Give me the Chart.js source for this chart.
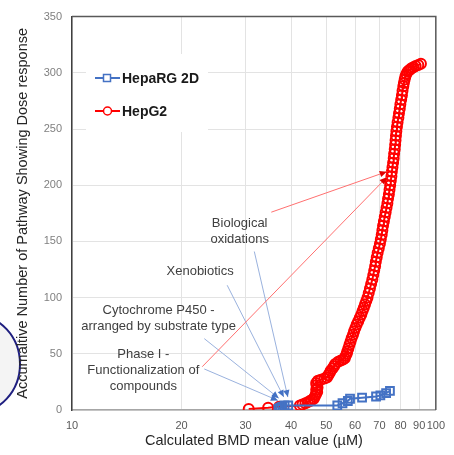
<!DOCTYPE html>
<html>
<head>
<meta charset="utf-8">
<script src="https://cdn.jsdelivr.net/npm/chart.js@4.4.0/dist/chart.umd.min.js"></script>
<style>
html,body{margin:0;padding:0;background:#fff;}
</style>
</head>
<body>
<canvas id="chart" width="454" height="455"></canvas>
<script>
// valores
const xTicks = [10, 20, 30, 40, 50, 60, 70, 80, 90, 100];
const yTicks = [0, 50, 100, 150, 200, 250, 300, 350];

const hepaRGDose  = [36.9, 37.3, 37.8, 38.4, 39.3, 53.6, 55.4, 57.3, 58.1, 62.7, 68.5, 70.4, 73.0, 74.8];
const hepaRGCount = [1, 2, 3, 4, 4, 4, 6, 8, 10, 11, 12, 13, 15, 17];

const hepG2Dose = [30.6, 34.6, 37.1, 42.3, 43.0, 43.8, 44.5, 45.1, 45.6, 46.2, 46.5, 46.8, 47.2, 46.9, 47.3, 47.0, 46.9, 47.4,
  48.3, 49.4, 50.2, 50.6, 51.1, 51.4, 52.0, 52.5, 52.9, 53.9, 54.8, 55.6, 56.2, 56.5, 56.9, 57.1, 57.5, 57.9, 58.3, 58.7,
  59.2, 59.6, 60.1, 60.6, 61.2, 61.8, 62.4, 62.9, 63.4, 63.9, 64.4, 64.9, 65.4, 65.9, 66.4, 66.9, 67.3, 67.7, 68.1, 68.4,
  68.8, 69.2, 69.7, 70.2, 70.6, 71.0, 71.3, 71.6, 72.0, 72.4, 72.8, 73.2, 73.6, 73.9, 74.3, 74.6, 74.9, 75.2, 75.5, 75.7,
  76.0, 76.3, 76.6, 76.8, 77.1, 77.3, 77.5, 77.7, 77.9, 78.2, 78.5, 78.9, 79.2, 79.6, 79.9, 80.3, 80.7, 81.0, 81.4, 81.7,
  82.1, 82.5, 83.0, 83.6, 84.3, 85.0, 85.7, 86.8, 88.0, 89.5, 91.0];
const hepG2Count = [1, 2, 3, 4, 5, 6, 7, 8, 9, 10, 12, 14, 16, 18, 20, 22, 24, 26,
  27, 28, 29, 31, 33, 35, 37, 39, 41, 43, 44, 45, 46, 48, 50, 52, 55, 58, 61, 64,
  67, 70, 73, 76, 79, 82, 85, 88, 91, 94, 97, 100, 104, 108, 112, 116, 120, 124, 128, 132,
  136, 140, 144, 148, 152, 156, 160, 164, 168, 172, 176, 180, 184, 188, 192, 196, 200, 204, 208, 212,
  216, 220, 224, 228, 232, 236, 240, 244, 248, 252, 256, 260, 264, 268, 272, 276, 280, 284, 288, 291,
  294, 297, 299, 301, 302, 303, 304, 305, 306, 307, 308];

const xTitle = 'Calculated BMD mean value (\u00b5M)';
const yTitle = 'Accumaltive Number of Pathway Showing Dose response';

// textos e setas (em unidades do grafico)
const notes = [
  {lines: ['Biological', 'oxidations'], x: 28.9, y: 158.5},
  {lines: ['Xenobiotics'], x: 22.5, y: 123},
  {lines: ['Cytochrome P450 -', 'arranged by substrate type'], x: 17.3, y: 81.5},
  {lines: ['Phase I -', 'Functionalization of', 'compounds'], x: 15.7, y: 35.5}
];
const pointers = [
  {from: [31.7, 141], to: [39.2, 11.5], line: '#9ab2de', head: '#4472c4'},
  {from: [26.7, 111], to: [38.2, 11.5], line: '#9ab2de', head: '#4472c4'},
  {from: [23.1, 63.5], to: [37.0, 10.5], line: '#9ab2de', head: '#4472c4'},
  {from: [23.1, 36.5], to: [36.8, 8.5], line: '#9ab2de', head: '#4472c4'},
  {from: [35.3, 176], to: [73.3, 212], line: '#ff7070', head: '#e00000'},
  {from: [22.8, 38.5], to: [73.3, 207], line: '#ff7070', head: '#e00000'}
];

const toPoints = (xs, ys) => xs.map((v, i) => ({x: v, y: ys[i]}));
const font = '"Liberation Sans", Arial, sans-serif';

const fundo = {//elipse cortada na esquerda
  id: 'fundo',
  beforeDraw(chart) {
    const ctx = chart.ctx;
    ctx.save();
    ctx.fillStyle = '#fff';
    ctx.fillRect(0, 0, chart.width, chart.height);
    ctx.beginPath();
    ctx.ellipse(-25, 364, 45, 49, 0, 0, Math.PI * 2);
    ctx.fillStyle = '#f4f4f4';
    ctx.fill();
    ctx.strokeStyle = '#1f1f80';
    ctx.lineWidth = 2;
    ctx.stroke();
    ctx.restore();
  }
};

const moldura = {//borda de cima e da direita + titulos dos eixos
  id: 'moldura',
  afterDraw(chart) {
    const {ctx, chartArea: a} = chart;
    ctx.save();
    ctx.strokeStyle = '#595959';
    ctx.lineWidth = 1.5;
    ctx.beginPath();
    ctx.moveTo(a.left, a.top);
    ctx.lineTo(a.right, a.top);
    ctx.lineTo(a.right, a.bottom);
    ctx.stroke();

    ctx.fillStyle = '#262626';
    ctx.font = '14.5px ' + font;
    ctx.textAlign = 'center';
    ctx.textBaseline = 'middle';
    ctx.fillText(xTitle, (a.left + a.right) / 2, 441);
    ctx.translate(23, (a.top + a.bottom) / 2);
    ctx.rotate(-Math.PI / 2);
    ctx.fillText(yTitle, 0, 0);
    ctx.restore();
  }
};

const anotacoes = {
  id: 'anotacoes',
  afterDatasetsDraw(chart) {
    const {ctx, scales: {x, y}} = chart;
    ctx.save();
    pointers.forEach(p => {
      const x1 = x.getPixelForValue(p.from[0]), y1 = y.getPixelForValue(p.from[1]);
      const x2 = x.getPixelForValue(p.to[0]), y2 = y.getPixelForValue(p.to[1]);
      ctx.strokeStyle = p.line;
      ctx.lineWidth = 1;
      ctx.beginPath();
      ctx.moveTo(x1, y1);
      ctx.lineTo(x2, y2);
      ctx.stroke();
      const ang = Math.atan2(y2 - y1, x2 - x1);
      const c = Math.cos(ang), s = Math.sin(ang);
      ctx.fillStyle = p.head;
      ctx.beginPath();
      ctx.moveTo(x2, y2);
      ctx.lineTo(x2 - 7 * c + 3.2 * s, y2 - 7 * s - 3.2 * c);
      ctx.lineTo(x2 - 7 * c - 3.2 * s, y2 - 7 * s + 3.2 * c);
      ctx.closePath();
      ctx.fill();
    });
    ctx.font = '13px ' + font;
    ctx.fillStyle = '#404040';
    ctx.textAlign = 'center';
    ctx.textBaseline = 'middle';
    notes.forEach(n => {
      const cx = x.getPixelForValue(n.x), cy = y.getPixelForValue(n.y);
      n.lines.forEach((t, i) => ctx.fillText(t, cx, cy + (i - (n.lines.length - 1) / 2) * 16));
    });
    ctx.restore();
  }
};

const legenda = {
  id: 'legenda',
  afterDraw(chart) {
    const ctx = chart.ctx;
    ctx.save();
    ctx.fillStyle = '#fff';
    ctx.fillRect(86, 54, 122, 78);
    chart.data.datasets.forEach((ds, i) => {
      const yy = 78 + i * 33;
      ctx.strokeStyle = ds.borderColor;
      ctx.lineWidth = 2;
      ctx.beginPath();
      ctx.moveTo(95, yy);
      ctx.lineTo(120, yy);
      ctx.stroke();
      ctx.lineWidth = 1.5;
      ctx.fillStyle = '#fff';
      ctx.beginPath();
      if (ds.pointStyle == 'rect') {
        ctx.rect(103.5, yy - 3.5, 7, 7);
      } else {
        ctx.arc(107.5, yy, 4, 0, Math.PI * 2);
      }
      ctx.fill();
      ctx.stroke();
      ctx.fillStyle = '#1a1a1a';
      ctx.font = 'bold 14px ' + font;
      ctx.textBaseline = 'middle';
      ctx.fillText(ds.label, 122, yy + 1);
    });
    ctx.restore();
  }
};

const ctx = document.getElementById('chart').getContext('2d');
const grafico = new Chart(ctx, {
  type: 'scatter',
  data: {
    datasets: [{
      label: 'HepaRG 2D',
      data: toPoints(hepaRGDose, hepaRGCount),
      showLine: true,
      borderColor: '#4472c4',
      borderWidth: 2,
      pointStyle: 'rect',
      pointRadius: 5.5,
      pointBorderWidth: 2,
      pointBorderColor: '#4472c4',
      pointBackgroundColor: 'rgba(255,255,255,0)'
    }, {
      label: 'HepG2',
      data: toPoints(hepG2Dose, hepG2Count),
      showLine: true,
      borderColor: '#ff0000',
      borderWidth: 2,
      pointStyle: 'circle',
      pointRadius: 5,
      pointBorderWidth: 2,
      pointBorderColor: '#ff0000',
      pointBackgroundColor: 'rgba(255,255,255,0)'
    }]
  },
  options: {
    responsive: false,
    animation: false,
    devicePixelRatio: 1,
    layout: {padding: {top: 9, right: 11, left: 0, bottom: 0}},
    plugins: {legend: {display: false}, tooltip: {enabled: false}},
    scales: {
      x: {
        type: 'logarithmic',
        min: 10,
        max: 100,
        afterBuildTicks: s => { s.ticks = xTicks.map(v => ({value: v})); },
        afterFit: s => { s.height = 45; },
        ticks: {
          autoSkip: false,
          maxRotation: 0,
          padding: 9,
          color: '#595959',
          font: {family: font, size: 11},
          callback: v => String(v)
        },
        grid: {color: '#e3e3e3', lineWidth: 1, drawTicks: false},
        border: {color: '#a6a6a6', width: 1.5}
      },
      y: {
        min: 0,
        max: 350,
        afterBuildTicks: s => { s.ticks = yTicks.map(v => ({value: v})); },
        afterFit: s => { s.width = 72; },
        ticks: {
          padding: 10,
          color: '#808080',
          font: {family: font, size: 11}
        },
        grid: {color: '#e3e3e3', lineWidth: 1, drawTicks: false},
        border: {color: '#404040', width: 1.5}
      }
    }
  },
  plugins: [fundo, anotacoes, moldura, legenda]
});
</script>
</body>
</html>
